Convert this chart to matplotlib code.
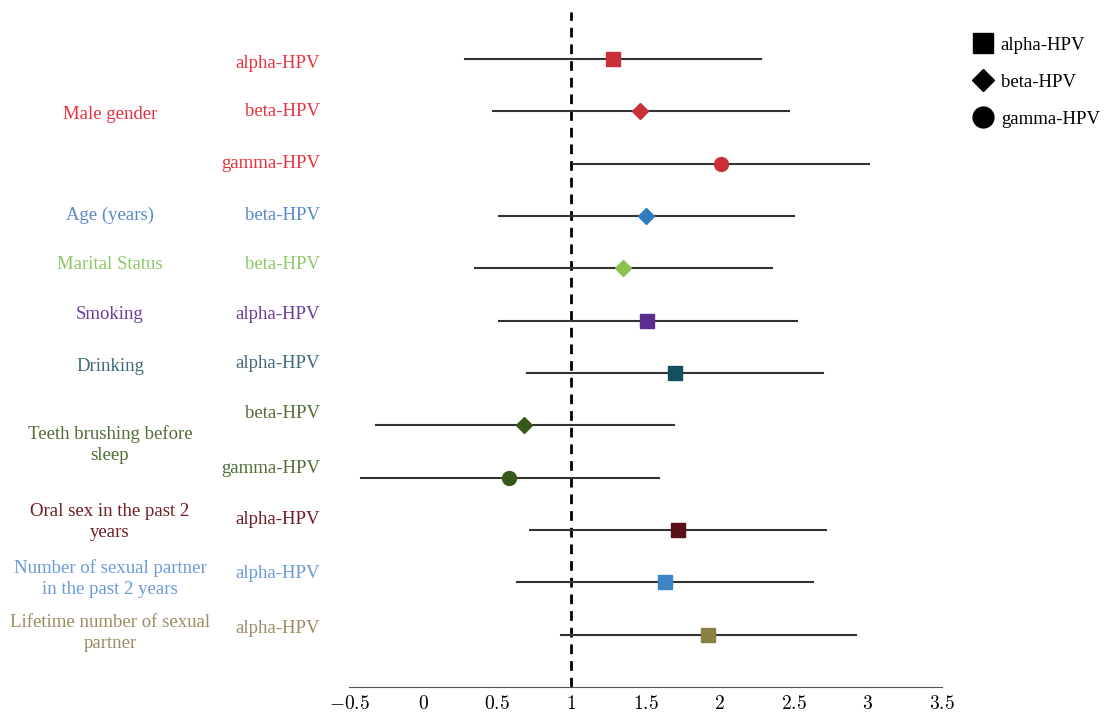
import matplotlib
matplotlib.use("Agg")
import matplotlib.pyplot as plt
from matplotlib.lines import Line2D
from matplotlib.ticker import FuncFormatter
from matplotlib.transforms import blended_transform_factory

plt.rcParams['font.family'] = ['Liberation Serif', 'DejaVu Serif']
plt.rcParams['mathtext.fontset'] = 'cm'

# data, one row per estimate (top to bottom)
groups = ["Male gender", "Male gender", "Male gender", "Age (years)", "Marital Status",
          "Smoking", "Drinking", "Teeth brushing before\nsleep", "Teeth brushing before\nsleep",
          "Oral sex in the past 2\nyears", "Number of sexual partner\nin the past 2 years",
          "Lifetime number of sexual\npartner"]
subtypes = ["alpha-HPV", "beta-HPV", "gamma-HPV", "beta-HPV", "beta-HPV", "alpha-HPV",
            "alpha-HPV", "beta-HPV", "gamma-HPV", "alpha-HPV", "alpha-HPV", "alpha-HPV"]
estimate = [1.28, 1.46, 2.01, 1.50, 1.35, 1.51, 1.70, 0.68, 0.58, 1.72, 1.63, 1.92]
ci_low = [0.28, 0.47, 1.01, 0.51, 0.35, 0.51, 0.70, -0.32, -0.42, 0.72, 0.63, 0.93]
ci_high = [2.28, 2.47, 3.01, 2.50, 2.35, 2.52, 2.70, 1.69, 1.59, 2.72, 2.63, 2.92]
xticks = [-0.5, 0, 0.5, 1, 1.5, 2, 2.5, 3, 3.5]

# styling
marker_of = {"alpha-HPV": "s", "beta-HPV": "D", "gamma-HPV": "o"}
msize_of = {"alpha-HPV": 10, "beta-HPV": 8, "gamma-HPV": 10}
point_colors = ["#c9303a", "#c9303a", "#c9303a", "#2f7bbf", "#8bbf4e", "#5b2d8e",
                "#134f5c", "#38571a", "#38571a", "#5b0f16", "#3d85c6", "#8a8044"]
text_colors = {"Male gender": "#e8323f", "Age (years)": "#5a88c8", "Marital Status": "#8cc865",
               "Smoking": "#6a3d9a", "Drinking": "#3f6a78", "Teeth brushing before\nsleep": "#4f6e36",
               "Oral sex in the past 2\nyears": "#6e1e22",
               "Number of sexual partner\nin the past 2 years": "#6a9ad8",
               "Lifetime number of sexual\npartner": "#9a8c62"}
# vertical nudges (in rows) for the left-hand labels
sub_offset = [0.08, 0, 0, -0.02, -0.08, -0.11, -0.19, -0.23, -0.17, -0.21, -0.17, -0.11]
group_rows = {"Male gender": 1.05, "Age (years)": 2.98, "Marital Status": 3.92, "Smoking": 4.88,
              "Drinking": 5.88, "Teeth brushing before\nsleep": 7.36,
              "Oral sex in the past 2\nyears": 8.85,
              "Number of sexual partner\nin the past 2 years": 9.93,
              "Lifetime number of sexual\npartner": 10.97}

fig = plt.figure(figsize=(11.06, 7.13), dpi=100)
ax = fig.add_axes([349 / 1106, 1 - 687 / 713, 593 / 1106, 675 / 713])

rows = list(range(len(estimate)))
ax.axvline(1, color="black", linestyle=(0, (3.5, 2.5)), linewidth=2, zorder=1)
for i in rows:
    ax.plot([ci_low[i], ci_high[i]], [i, i], color="#333333", linewidth=1.5, zorder=2)
    ax.plot(estimate[i], i, marker=marker_of[subtypes[i]], markersize=msize_of[subtypes[i]],
            color=point_colors[i], markeredgecolor=point_colors[i], linestyle="none", zorder=3)

ax.set_xlim(-0.5, 3.5)
ax.set_ylim(12.0, -0.9)
ax.set_xticks(xticks)
ax.xaxis.set_major_formatter(FuncFormatter(lambda v, p: "$%g$" % v))
ax.set_yticks([])
for s in ["left", "right", "top"]:
    ax.spines[s].set_visible(False)
ax.spines["bottom"].set_color("#555555")
ax.tick_params(axis="x", length=0, labelsize=14, pad=6)

trans = blended_transform_factory(fig.transFigure, ax.transData)
for i in rows:
    ax.text(320 / 1106, i + sub_offset[i], subtypes[i], transform=trans, ha="right", va="center",
            fontsize=13.5, color=text_colors[groups[i]])
for g, r in group_rows.items():
    ax.text(110 / 1106, r, g, transform=trans, ha="center", va="center", fontsize=13.5,
            color=text_colors[g], linespacing=1.3)

handles = [Line2D([], [], marker="s", color="black", linestyle="none", markersize=15),
           Line2D([], [], marker="D", color="black", linestyle="none", markersize=11),
           Line2D([], [], marker="o", color="black", linestyle="none", markersize=15)]
fig.legend(handles, ["alpha-HPV", "beta-HPV", "gamma-HPV"], loc="upper left",
           bbox_to_anchor=(952 / 1106, 1 - 20 / 713), frameon=False, fontsize=13.5,
           handletextpad=0.2, labelspacing=1.05, handlelength=1.5)

fig.savefig("out.png", dpi=100)
